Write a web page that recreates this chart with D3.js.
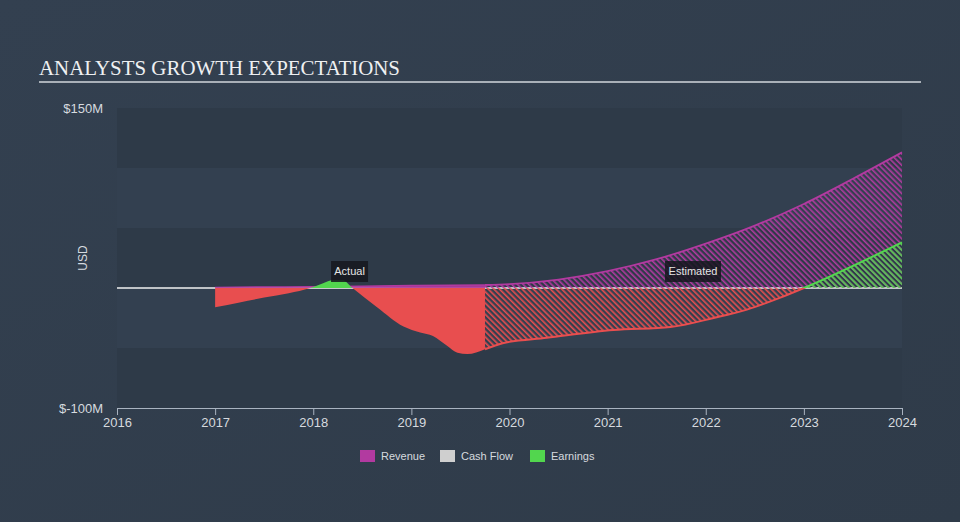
<!DOCTYPE html>
<html><head><meta charset="utf-8">
<script src="https://cdn.jsdelivr.net/npm/d3@7/dist/d3.min.js"></script>
<style>html,body{margin:0;padding:0;background:#333f4e;}svg{display:block;}</style>
</head><body>
<svg id="chart" width="960" height="522"></svg>
<script>
// ---- data ----
const xTickYears = [2016, 2017, 2018, 2019, 2020, 2021, 2022, 2023, 2024];
const xTickLabels = ["2016", "2017", "2018", "2019", "2020", "2021", "2022", "2023", "2024"];
const yTickValues = [150, -100];
const yTickLabels = ["$150M", "$-100M"];
const seriesNames = ["Revenue", "Cash Flow", "Earnings"];
const seriesColors = ["#b23aa0", "#cfcfcf", "#52d64e"];
const negativeColor = "#e84e4f";

const revenueActualYears = [2017.0, 2017.5, 2018.0, 2018.5, 2019.0, 2019.75];
const revenueActual = [0.5, 0.8, 1.0, 1.5, 2.0, 2.5];
const revenueEstYears = [2019.75, 2020.0, 2020.5, 2021.0, 2021.5, 2022.0, 2022.5, 2023.0, 2023.5, 2024.0];
const revenueEst = [2.5, 3.2, 7, 14, 24, 37, 52, 70, 91, 113];

const cashFlowYears = [2017.0, 2018.0, 2019.0, 2019.75];
const cashFlow = [-0.3, -0.2, -0.4, -0.5];

const earningsActualYears = [2017.0, 2017.25, 2017.5, 2017.75, 2017.97, 2018.1, 2018.2, 2018.3, 2018.4, 2018.65, 2018.92, 2019.09, 2019.22, 2019.36, 2019.47, 2019.57, 2019.75];
const earningsActual = [-16, -12, -8, -4.3, 0, 4, 6.5, 6.5, 0, -16, -32, -37, -40, -48, -54, -55, -51];
const earningsEstYears = [2019.75, 2019.93, 2020.38, 2021.06, 2021.64, 2022.08, 2022.42, 2022.76, 2023.0, 2024.0];
const earningsEst = [-51, -46, -41.5, -35, -32.5, -25, -18, -8, 0, 38];

const zip = (xs, vs) => xs.map((x, i) => ({x: x, v: vs[i]}));

// ---- layout ----
const svg = d3.select("#chart");
const W = 960, H = 522;
const x = d3.scaleLinear().domain([2016, 2024]).range([117, 902]);
const y = d3.scaleLinear().domain([-100, 150]).range([408, 108]);

const defs = svg.append("defs");
const bg = defs.append("linearGradient").attr("id", "bgGrad").attr("x1", 0).attr("y1", 0).attr("x2", 1).attr("y2", 1);
bg.append("stop").attr("offset", "0%").attr("stop-color", "#334050");
bg.append("stop").attr("offset", "100%").attr("stop-color", "#2f3b49");
svg.append("rect").attr("width", W).attr("height", H).attr("fill", "url(#bgGrad)");

function hatch(id, color) {
  const p = defs.append("pattern").attr("id", id).attr("patternUnits", "userSpaceOnUse")
    .attr("width", 4).attr("height", 4).attr("patternTransform", "rotate(-45)");
  p.append("rect").attr("x", 0).attr("y", 0).attr("width", 1.6).attr("height", 4).attr("fill", color);
}
hatch("hatchRev", seriesColors[0]);
hatch("hatchPos", seriesColors[2]);
hatch("hatchNeg", negativeColor);

defs.append("clipPath").attr("id", "clipAbove").append("rect")
  .attr("x", 0).attr("y", 0).attr("width", W).attr("height", y(0));
defs.append("clipPath").attr("id", "clipBelow").append("rect")
  .attr("x", 0).attr("y", y(0)).attr("width", W).attr("height", H - y(0));

// title
svg.append("text").attr("x", 39).attr("y", 74.5)
  .attr("font-family", "'Liberation Serif', 'DejaVu Serif', serif").attr("font-size", 22)
  .attr("fill", "#eef0f2").attr("textLength", 361).attr("lengthAdjust", "spacingAndGlyphs")
  .text("ANALYSTS GROWTH EXPECTATIONS");
svg.append("line").attr("x1", 39).attr("x2", 921).attr("y1", 82).attr("y2", 82)
  .attr("stroke", "#a9b0b8").attr("stroke-width", 2);

// plot bands
const bandEdges = [150, 100, 50, 0, -50, -100];
for (let i = 0; i < bandEdges.length - 1; i++) {
  svg.append("rect").attr("x", x(2016)).attr("width", x(2024) - x(2016))
    .attr("y", y(bandEdges[i])).attr("height", y(bandEdges[i + 1]) - y(bandEdges[i]))
    .attr("fill", i % 2 === 0 ? "#2e3a48" : "#334050");
}

// zero line
svg.append("line").attr("x1", x(2016)).attr("x2", x(2024)).attr("y1", y(0)).attr("y2", y(0))
  .attr("stroke", "#f0f0f0").attr("stroke-width", 1.3);

const area = d3.area().x(d => x(d.x)).y0(y(0)).y1(d => y(d.v)).curve(d3.curveMonotoneX);
const line = d3.line().x(d => x(d.x)).y(d => y(d.v)).curve(d3.curveMonotoneX);

// revenue
const revA = zip(revenueActualYears, revenueActual);
const revE = zip(revenueEstYears, revenueEst);
svg.append("path").attr("d", area(revA)).attr("fill", seriesColors[0]).attr("opacity", 0.9);
svg.append("path").attr("d", area(revE)).attr("fill", "url(#hatchRev)");
svg.append("path").attr("d", line(revA)).attr("fill", "none").attr("stroke", seriesColors[0]).attr("stroke-width", 1.5);
svg.append("path").attr("d", line(revE)).attr("fill", "none").attr("stroke", seriesColors[0]).attr("stroke-width", 1.8);

// cash flow
svg.append("path").attr("d", line(zip(cashFlowYears, cashFlow))).attr("fill", "none")
  .attr("stroke", seriesColors[1]).attr("stroke-width", 1).attr("opacity", 0.6);

// earnings
const earA = zip(earningsActualYears, earningsActual);
const earE = zip(earningsEstYears, earningsEst);
svg.append("path").attr("d", area(earA)).attr("fill", seriesColors[2]).attr("clip-path", "url(#clipAbove)");
svg.append("path").attr("d", area(earA)).attr("fill", negativeColor).attr("clip-path", "url(#clipBelow)");
svg.append("path").attr("d", area(earE)).attr("fill", "url(#hatchPos)").attr("clip-path", "url(#clipAbove)");
svg.append("path").attr("d", area(earE)).attr("fill", "url(#hatchNeg)").attr("clip-path", "url(#clipBelow)");
svg.append("path").attr("d", line(earE)).attr("fill", "none").attr("stroke", seriesColors[2]).attr("stroke-width", 2).attr("clip-path", "url(#clipAbove)");
svg.append("path").attr("d", line(earE)).attr("fill", "none").attr("stroke", negativeColor).attr("stroke-width", 2).attr("clip-path", "url(#clipBelow)");

// Actual / Estimated labels
function tag(year, text, w) {
  const g = svg.append("g").attr("transform", `translate(${x(year)},${271.5})`);
  g.append("rect").attr("x", -w / 2).attr("y", -10.5).attr("width", w).attr("height", 21)
    .attr("fill", "#15181e").attr("opacity", 0.85);
  g.append("text").attr("text-anchor", "middle").attr("dy", "0.35em")
    .attr("font-family", "'Liberation Sans', Arial, sans-serif").attr("font-size", 11)
    .attr("fill", "#e6e6e6").text(text);
}
tag(2018.37, "Actual", 37);
tag(2021.87, "Estimated", 56);

// axes
const fontAxis = "'Liberation Sans', Arial, sans-serif";
const xAxis = svg.append("g").attr("transform", `translate(0,${y(-100)})`)
  .call(d3.axisBottom(x).tickValues(xTickYears).tickFormat((d, i) => xTickLabels[i]).tickSize(7).tickSizeOuter(7).tickPadding(3));
xAxis.selectAll("path,line").attr("stroke", "#a9b3c0");
xAxis.selectAll("text").attr("fill", "#d6dadf").attr("font-size", 13).attr("font-family", fontAxis);

const yAxis = svg.append("g").attr("transform", `translate(${x(2016)},0)`)
  .call(d3.axisLeft(y).tickValues(yTickValues).tickFormat((d, i) => yTickLabels[i]).tickSize(0).tickPadding(14));
yAxis.select(".domain").remove();
yAxis.selectAll("text").attr("fill", "#d6dadf").attr("font-size", 13).attr("font-family", fontAxis);

svg.append("text").attr("transform", "translate(87,258) rotate(-90)").attr("text-anchor", "middle")
  .attr("font-family", fontAxis).attr("font-size", 12).attr("fill", "#d6dadf").text("USD");

// legend
const legendX = [360, 440, 530];
const lg = svg.append("g").attr("transform", "translate(0,450)");
seriesNames.forEach((n, i) => {
  lg.append("rect").attr("x", legendX[i]).attr("y", 0).attr("width", 15).attr("height", 12).attr("fill", seriesColors[i]);
  lg.append("text").attr("x", legendX[i] + 21).attr("y", 6).attr("dy", "0.35em")
    .attr("font-family", fontAxis).attr("font-size", 11).attr("fill", "#d6dadf").text(n);
});
</script>
</body></html>
